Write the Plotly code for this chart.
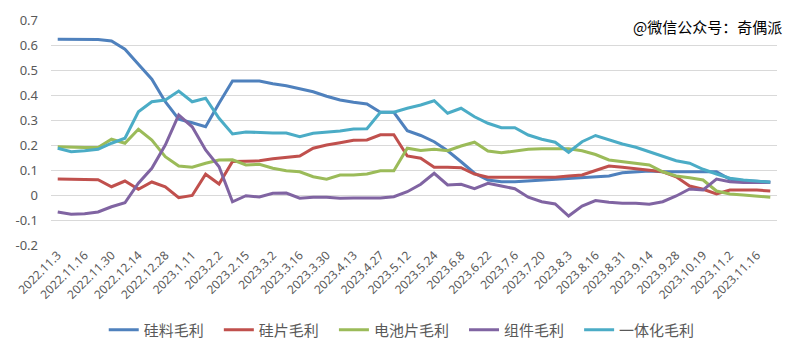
import plotly.graph_objects as go

dates = ["2022.11.3", "2022.11.10", "2022.11.16", "2022.11.23", "2022.11.30", "2022.12.7",
         "2022.12.14", "2022.12.21", "2022.12.28", "2023.1.4", "2023.1.11", "2023.1.18",
         "2023.2.2", "2023.2.8", "2023.2.15", "2023.2.22", "2023.3.2", "2023.3.9",
         "2023.3.16", "2023.3.23", "2023.3.30", "2023.4.6", "2023.4.13", "2023.4.20",
         "2023.4.27", "2023.5.6", "2023.5.12", "2023.5.17", "2023.5.24", "2023.5.31",
         "2023.6.8", "2023.6.14", "2023.6.22", "2023.6.29", "2023.7.6", "2023.7.13",
         "2023.7.20", "2023.7.27", "2023.8.3", "2023.8.10", "2023.8.16", "2023.8.24",
         "2023.8.31", "2023.9.7", "2023.9.14", "2023.9.21", "2023.9.28", "2023.10.12",
         "2023.10.19", "2023.10.26", "2023.11.2", "2023.11.9", "2023.11.16", "2023.11.23"]

silicon = [0.623, 0.622, 0.622, 0.622, 0.616, 0.583, 0.523, 0.463, 0.373, 0.303, 0.289, 0.273,
           0.367, 0.456, 0.456, 0.456, 0.445, 0.437, 0.425, 0.413, 0.395, 0.380, 0.371, 0.364,
           0.331, 0.331, 0.257, 0.238, 0.213, 0.177, 0.133, 0.087, 0.060, 0.053, 0.053, 0.056,
           0.060, 0.063, 0.064, 0.067, 0.071, 0.076, 0.089, 0.093, 0.096, 0.093, 0.093, 0.093,
           0.093, 0.093, 0.063, 0.057, 0.055, 0.052]

wafer = [0.064, 0.064, 0.064, 0.061, 0.033, 0.056, 0.023, 0.052, 0.033, -0.011, -0.002, 0.083,
         0.044, 0.134, 0.135, 0.137, 0.145, 0.149, 0.156, 0.187, 0.200, 0.209, 0.219, 0.220,
         0.241, 0.241, 0.156, 0.147, 0.111, 0.111, 0.109, 0.084, 0.071, 0.071, 0.071, 0.071,
         0.071, 0.071, 0.076, 0.080, 0.098, 0.116, 0.111, 0.105, 0.100, 0.093, 0.073, 0.036,
         0.023, 0.004, 0.020, 0.020, 0.020, 0.016]

cell = [0.193, 0.190, 0.190, 0.190, 0.223, 0.207, 0.263, 0.220, 0.153, 0.116, 0.111, 0.127,
        0.140, 0.141, 0.120, 0.123, 0.107, 0.097, 0.093, 0.073, 0.063, 0.080, 0.080, 0.084,
        0.097, 0.097, 0.187, 0.178, 0.183, 0.177, 0.196, 0.211, 0.176, 0.169, 0.177, 0.183,
        0.185, 0.185, 0.185, 0.177, 0.162, 0.140, 0.133, 0.127, 0.120, 0.093, 0.076, 0.069,
        0.060, 0.016, 0.004, 0.000, -0.004, -0.009]

module = [-0.068, -0.077, -0.075, -0.068, -0.047, -0.031, 0.047, 0.107, 0.200, 0.320, 0.273, 0.180,
          0.113, -0.027, -0.003, -0.008, 0.007, 0.008, -0.013, -0.009, -0.009, -0.013, -0.012, -0.012,
          -0.012, -0.007, 0.013, 0.043, 0.087, 0.040, 0.043, 0.025, 0.047, 0.036, 0.025, -0.009,
          -0.027, -0.036, -0.084, -0.044, -0.022, -0.029, -0.033, -0.033, -0.037, -0.027, -0.004, 0.024,
          0.020, 0.064, 0.053, 0.050, 0.050, 0.050]

integrated = [0.187, 0.173, 0.177, 0.183, 0.207, 0.227, 0.333, 0.373, 0.380, 0.416, 0.373, 0.387,
              0.307, 0.244, 0.252, 0.249, 0.248, 0.248, 0.233, 0.247, 0.251, 0.256, 0.264, 0.265,
              0.331, 0.331, 0.347, 0.360, 0.377, 0.327, 0.347, 0.313, 0.287, 0.269, 0.269, 0.240,
              0.223, 0.211, 0.171, 0.213, 0.238, 0.220, 0.204, 0.191, 0.173, 0.156, 0.137, 0.127,
              0.103, 0.084, 0.067, 0.060, 0.055, 0.051]

series = [("硅料毛利", silicon, "#4F81BD"),
          ("硅片毛利", wafer, "#C0504D"),
          ("电池片毛利", cell, "#9BBB59"),
          ("组件毛利", module, "#8064A2"),
          ("一体化毛利", integrated, "#4BACC6")]

y_ticks = [-0.2, -0.1, 0, 0.1, 0.2, 0.3, 0.4, 0.5, 0.6, 0.7]
y_ticktext = ["-0.2", "-0.1", "0", "0.1", "0.2", "0.3", "0.4", "0.5", "0.6", "0.7"]

fig = go.Figure()
for name, vals, color in series:
    fig.add_trace(go.Scatter(x=dates, y=vals, name=name + "   ", mode="lines",
                             line=dict(color=color, width=3)))

fig.update_layout(
    width=806, height=352,
    margin=dict(l=51, r=29, t=20, b=107, autoexpand=False),
    paper_bgcolor="white", plot_bgcolor="white",
    font=dict(family="Noto Sans, Noto Sans CJK SC", color="#595959"),
    showlegend=True,
    legend=dict(orientation="h", x=0.49, xanchor="center", y=-0.378, yanchor="middle",
                font=dict(family="Noto Sans CJK SC", size=15, color="#595959"),
                itemwidth=30, tracegroupgap=0),
    xaxis=dict(type="category", range=[-0.5, len(dates) - 0.5], automargin=False,
               tickmode="array", tickvals=dates[::2], ticktext=dates[::2],
               tickangle=-45, tickfont=dict(size=12, color="#595959"),
               showgrid=False, showline=False, zeroline=False, ticks=""),
    yaxis=dict(range=[-0.2, 0.7], tickmode="array", tickvals=y_ticks, ticktext=y_ticktext,
               automargin=False,
               tickfont=dict(size=13, color="#595959"),
               showgrid=True, gridcolor="#D9D9D9", gridwidth=1,
               zeroline=False, showline=False, ticks="", ticklabelstandoff=12),
    annotations=[dict(text="@微信公众号：奇偶派", xref="paper", yref="paper",
                      x=1.01, y=0.97, xanchor="right", yanchor="middle", showarrow=False,
                      font=dict(family="Noto Sans CJK SC", size=15, color="#000000"))],
)

fig.write_html("out.html")
